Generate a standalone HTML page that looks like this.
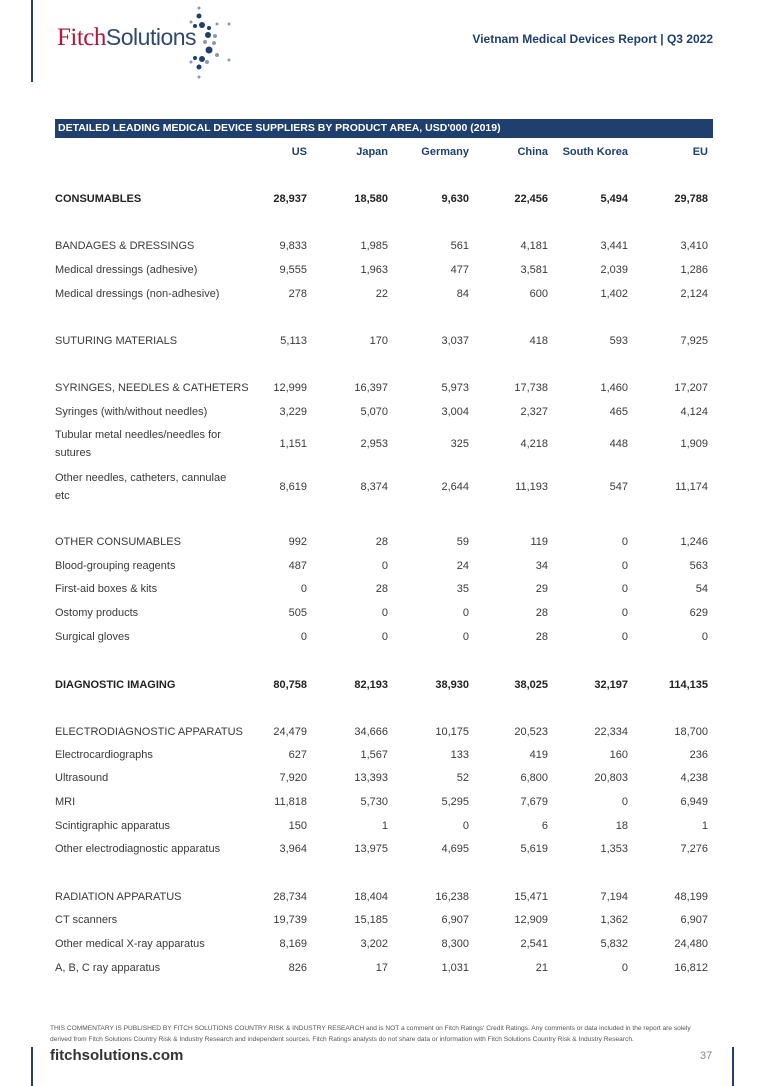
<!DOCTYPE html>
<html><head><meta charset="utf-8"><style>
body{margin:0;width:768px;height:1086px;position:relative;background:#fff;font-family:"Liberation Sans",sans-serif;color:#3a3a3a;overflow:hidden}
.a{position:absolute;white-space:nowrap}
.r{font-size:11px;line-height:14px}
.v{position:absolute;font-size:11px;line-height:14px;text-align:right;width:80px}
.b{font-weight:bold;color:#222}
.h{font-weight:bold;color:#1f3f6e;font-size:11px}
</style></head><body>
<div class="a" style="left:31px;top:0;width:2px;height:82px;background:#1f3f6e"></div>
<div class="a" style="left:31px;top:1047px;width:2px;height:39px;background:#1f3f6e"></div>
<div class="a" style="left:732px;top:1047px;width:2px;height:39px;background:#1f3f6e"></div>
<div class="a" style="left:57px;top:24px;font-family:'Liberation Serif',serif;font-size:25px;color:#b5163b;letter-spacing:-0.5px">Fitch<span style="font-family:'Liberation Sans',sans-serif;color:#2f4a6e;font-size:23px">Solutions</span></div>
<svg class="a" style="left:175px;top:2px" width="65" height="78">
<g fill="#1f3f6e"><circle cx="24" cy="14" r="2.5"/><circle cx="20" cy="24" r="2"/><circle cx="27" cy="23" r="3"/><circle cx="34" cy="26" r="2"/><circle cx="33" cy="33" r="3"/><circle cx="34" cy="48" r="3.5"/><circle cx="27" cy="57" r="3"/><circle cx="24" cy="65" r="2.5"/><circle cx="20" cy="56" r="2"/></g>
<g fill="#8a9ab5"><circle cx="24" cy="6" r="1.5"/><circle cx="16" cy="20" r="1.5"/><circle cx="42" cy="22" r="1.5"/><circle cx="54" cy="22" r="1.5"/><circle cx="40" cy="34" r="2"/><circle cx="39" cy="41" r="2"/><circle cx="30" cy="40" r="2"/><circle cx="42" cy="53" r="2"/><circle cx="54" cy="58" r="1.5"/><circle cx="16" cy="60" r="1.5"/><circle cx="32" cy="60" r="2"/><circle cx="24" cy="75" r="1.5"/></g>
</svg>
<div class="a" style="right:55px;top:32px;font-size:12px;font-weight:bold;color:#1f3f6e">Vietnam Medical Devices Report | Q3 2022</div>
<div class="a" style="left:55px;top:119px;width:658px;height:19px;background:#1f3f6e"></div>
<div class="a" style="left:58px;top:122px;font-size:10.5px;font-weight:bold;color:#fff">DETAILED LEADING MEDICAL DEVICE SUPPLIERS BY PRODUCT AREA, USD'000 (2019)</div>
<div id="t"></div>
<div class="a" style="left:50px;top:1023px;font-size:6.6px;line-height:11px;color:#555">THIS COMMENTARY IS PUBLISHED BY FITCH SOLUTIONS COUNTRY RISK &amp; INDUSTRY RESEARCH and is NOT a comment on Fitch Ratings' Credit Ratings. Any comments or data included in the report are solely<br>derived from Fitch Solutions Country Risk &amp; Industry Research and independent sources. Fitch Ratings analysts do not share data or information with Fitch Solutions Country Risk &amp; Industry Research.</div>
<div class="a" style="left:50px;top:1047px;font-size:15px;font-weight:bold;color:#333">fitchsolutions.com</div>
<div class="a" style="left:700px;top:1050px;font-size:11px;color:#888">37</div>
<script>
const R=[307,388,469,548,628,708];
const H=["US","Japan","Germany","China","South Korea","EU"];
let s="";
H.forEach((h,i)=>{s+=`<div class="v h" style="left:${R[i]-80}px;top:145px">${h}</div>`});
const rows=[
[198,"CONSUMABLES","28,937 18,580 9,630 22,456 5,494 29,788",1],
[245,"BANDAGES &amp; DRESSINGS","9,833 1,985 561 4,181 3,441 3,410"],
[269,"Medical dressings (adhesive)","9,555 1,963 477 3,581 2,039 1,286"],
[293,"Medical dressings (non-adhesive)","278 22 84 600 1,402 2,124"],
[340,"SUTURING MATERIALS","5,113 170 3,037 418 593 7,925"],
[387,"SYRINGES, NEEDLES &amp; CATHETERS","12,999 16,397 5,973 17,738 1,460 17,207"],
[411,"Syringes (with/without needles)","3,229 5,070 3,004 2,327 465 4,124"],
[443,"Tubular metal needles/needles for<br>sutures","1,151 2,953 325 4,218 448 1,909"],
[486,"Other needles, catheters, cannulae<br>etc","8,619 8,374 2,644 11,193 547 11,174"],
[541,"OTHER CONSUMABLES","992 28 59 119 0 1,246"],
[565,"Blood-grouping reagents","487 0 24 34 0 563"],
[588,"First-aid boxes &amp; kits","0 28 35 29 0 54"],
[612,"Ostomy products","505 0 0 28 0 629"],
[636,"Surgical gloves","0 0 0 28 0 0"],
[684,"DIAGNOSTIC IMAGING","80,758 82,193 38,930 38,025 32,197 114,135",1],
[731,"ELECTRODIAGNOSTIC APPARATUS","24,479 34,666 10,175 20,523 22,334 18,700"],
[754,"Electrocardiographs","627 1,567 133 419 160 236"],
[777,"Ultrasound","7,920 13,393 52 6,800 20,803 4,238"],
[801,"MRI","11,818 5,730 5,295 7,679 0 6,949"],
[825,"Scintigraphic apparatus","150 1 0 6 18 1"],
[848,"Other electrodiagnostic apparatus","3,964 13,975 4,695 5,619 1,353 7,276"],
[896,"RADIATION APPARATUS","28,734 18,404 16,238 15,471 7,194 48,199"],
[919,"CT scanners","19,739 15,185 6,907 12,909 1,362 6,907"],
[943,"Other medical X-ray apparatus","8,169 3,202 8,300 2,541 5,832 24,480"],
[967,"A, B, C ray apparatus","826 17 1,031 21 0 16,812"]];
rows.forEach(([y,l,v,b])=>{const c=b?" b":"";const two=l.includes("<br>");
s+=`<div class="a r${c}" style="left:55px;top:${two?y-17:y-6}px;line-height:${two?18:14}px">${l}</div>`;
v.split(" ").forEach((x,i)=>{s+=`<div class="v${c}" style="left:${R[i]-80}px;top:${y-6}px">${x}</div>`});});
document.getElementById("t").innerHTML=s;
</script>
</body></html>
